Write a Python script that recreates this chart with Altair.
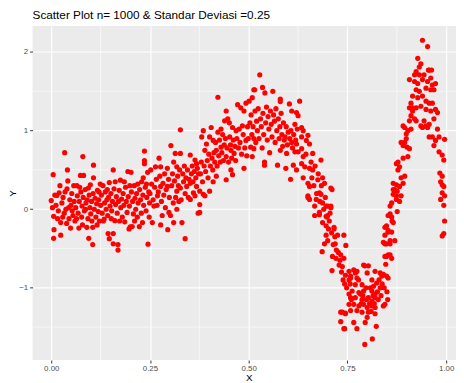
import altair as alt
import pandas as pd

title_text = "Scatter Plot n= 1000 & Standar Deviasi =0.25"

seg_a = [(0.005,0.44),(0.0,0.11),(0.003,0.02),(0.006,-0.09),(0.007,-0.26),(0.006,-0.37),(0.012,0.05),(0.014,0.175),
         (0.02,0.21),(0.018,-0.02),(0.024,-0.17),(0.024,-0.33),(0.027,0.08),(0.03,0.15),(0.033,-0.05),(0.034,0.72),
         (0.037,0.0),(0.04,0.26),(0.041,0.50),(0.042,0.36),(0.045,-0.12),(0.047,0.12),(0.049,-0.24),(0.05,0.05),
         (0.052,0.2),(0.055,-0.08),(0.057,0.30),(0.058,0.1),(0.06,-0.15),
         (0.009,0.18),(0.016,-0.12),(0.022,0.3),(0.029,-0.1),(0.035,0.22),(0.039,-0.18),(0.044,0.02),(0.053,-0.02)]
seg_a2 = [(0.062,0.02),(0.065,0.30),(0.066,0.17),(0.068,-0.05),(0.07,-0.24),(0.071,0.1),(0.074,0.43),(0.075,0.22),
          (0.077,-0.1),(0.078,0.04),(0.08,0.67),(0.081,0.15),(0.082,0.43),(0.084,-0.02),(0.086,0.25),(0.088,0.08),
          (0.09,-0.23),(0.091,0.12),(0.093,-0.12),(0.095,-0.37),(0.096,0.18),(0.098,0.02),(0.099,0.31),(0.1,-0.06),
          (0.102,0.1),(0.105,-0.23),(0.105,-0.45),(0.106,0.2),(0.107,0.56),(0.107,0.40),(0.109,0.0),(0.111,0.14),
          (0.113,-0.1),(0.115,0.07),(0.117,0.24),(0.119,-0.03),(0.12,0.12),(0.122,-0.15),(0.124,0.32),(0.125,0.05),
          (0.064,-0.12),(0.072,0.28),(0.079,-0.2),(0.087,0.0),(0.094,0.27),(0.103,-0.15),(0.116,-0.2),(0.121,0.22)]
seg_b = [(0.127,0.18),(0.129,-0.05),(0.132,-0.15),(0.134,-0.125),(0.135,0.08),(0.137,0.22),(0.139,0.0),(0.141,0.12),
         (0.143,-0.08),(0.144,-0.31),(0.145,0.15),(0.147,0.34),(0.147,-0.375),(0.149,0.04),(0.151,0.2),(0.153,-0.02),
         (0.155,0.1),(0.157,0.50),(0.157,-0.31),(0.157,-0.44),(0.159,0.26),(0.161,-0.146),(0.163,0.06),(0.165,0.16),
         (0.167,-0.05),(0.169,-0.45),(0.169,-0.52),(0.17,0.1),(0.172,0.24),(0.175,0.37),(0.176,0.02),(0.178,0.13),
         (0.18,-0.1),(0.182,0.2),(0.184,0.05),(0.186,-0.16),(0.188,0.28),(0.19,0.1),(0.192,-0.04),(0.194,0.48),
         (0.195,0.16),(0.197,-0.25),(0.198,0.04),(0.2,-0.225),(0.202,0.47),(0.203,0.22),(0.205,-0.22),(0.206,0.1),
         (0.208,-0.06),(0.21,0.3),(0.212,0.14),(0.214,0.0),(0.216,0.2),(0.218,-0.1),(0.22,0.08),(0.223,-0.22),
         (0.224,0.25),(0.226,0.12),(0.228,-0.05),(0.229,0.35),(0.231,-0.17),(0.232,0.18),(0.234,0.05),(0.236,0.74),
         (0.236,0.62),(0.236,0.58),(0.238,0.28),(0.24,-0.02),(0.242,0.15),(0.244,0.47),(0.245,-0.445),(0.247,0.22),
         (0.249,0.08),
         (0.131,0.3),(0.142,0.25),(0.152,-0.12),(0.162,0.35),(0.173,-0.15),(0.185,0.35),(0.199,0.3),(0.211,-0.15),
         (0.219,0.32),(0.233,0.4),(0.241,0.32),(0.248,-0.1)]
seg_c = [(0.252,0.5),(0.256,-0.17),(0.26,0.04),(0.264,0.54),(0.269,0.17),(0.273,0.65),(0.277,0.54),(0.277,0.29),
         (0.277,-0.2),(0.281,-0.08),(0.294,0.52),(0.294,0.29),(0.295,-0.26),(0.298,-0.04),(0.302,-0.08),(0.303,0.81),
         (0.31,0.6),(0.31,-0.17),(0.314,0.71),(0.318,0.54),(0.318,0.23),(0.318,0.0),(0.323,0.10),(0.327,0.71),
         (0.327,0.27),(0.327,1.01),(0.331,-0.17),(0.335,0.35),(0.339,-0.375),(0.343,0.29),(0.352,0.69),(0.352,0.33),
         (0.352,0.125),(0.36,0.21),(0.364,0.625),(0.364,0.17),(0.368,0.58),(0.368,0.29),(0.372,-0.05),(0.376,-0.04),
         (0.376,0.06),(0.376,0.23),
         (0.25,0.2),(0.254,0.32),(0.258,0.12),(0.262,0.28),(0.266,0.38),(0.268,0.05),(0.271,0.22),(0.275,0.42),
         (0.279,0.1),(0.283,0.33),(0.285,0.18),(0.287,0.45),(0.289,0.02),(0.291,0.25),(0.297,0.38),(0.299,0.15),
         (0.305,0.3),(0.307,0.45),(0.309,0.08),(0.312,0.36),(0.315,0.15),(0.32,0.42),(0.322,0.3),(0.325,0.5),
         (0.329,0.12),(0.333,0.45),(0.337,0.55),(0.339,0.2),(0.341,0.4),(0.345,0.5),(0.347,0.15),(0.349,0.38),
         (0.355,0.45),(0.357,0.55),(0.359,0.35),(0.362,0.48),(0.366,0.4),(0.37,0.52),(0.373,0.45)]
seg_d = [(0.381,0.92),(0.385,1.0),(0.385,0.19),(0.389,0.17),(0.389,0.75),(0.393,0.83),(0.401,0.92),(0.401,0.23),
         (0.405,1.04),(0.41,0.875),(0.41,0.35),(0.418,0.42),(0.418,0.75),(0.422,0.98),(0.422,1.425),(0.43,1.02),
         (0.43,0.79),(0.439,1.125),(0.443,1.25),(0.443,0.67),(0.443,0.375),(0.447,1.15),(0.451,1.10),(0.455,0.75),
         (0.455,0.5),(0.459,1.04),(0.459,0.44),(0.463,0.71),(0.468,1.0),(0.472,1.33),(0.476,1.02),(0.48,1.29),
         (0.484,1.06),(0.488,1.25),(0.488,0.52),(0.493,1.35),(0.493,0.875),
         (0.378,0.45),(0.38,0.6),(0.383,0.35),(0.387,0.55),(0.391,0.48),(0.395,0.62),(0.397,0.4),(0.399,0.7),
         (0.403,0.55),(0.407,0.65),(0.409,0.5),(0.412,0.72),(0.414,0.6),(0.416,0.85),(0.42,0.55),(0.424,0.68),
         (0.426,0.88),(0.428,0.6),(0.432,0.72),(0.434,0.95),(0.436,0.62),(0.438,0.82),(0.441,0.9),(0.445,0.78),
         (0.449,0.6),(0.452,0.92),(0.454,0.82),(0.457,0.65),(0.461,0.88),(0.465,0.8),(0.467,0.62),(0.47,0.9),
         (0.474,0.78),(0.478,0.85),(0.482,0.7),(0.486,0.95),(0.49,0.78),(0.495,0.68),(0.497,1.05),(0.499,0.9)]
seg_e = [(0.501,1.375),(0.505,0.79),(0.509,1.42),(0.509,0.67),(0.513,1.52),(0.513,0.9),(0.513,0.77),(0.515,1.52),
         (0.528,1.71),(0.535,1.55),(0.541,1.48),(0.54,0.6),(0.54,0.56),(0.561,1.50),(0.573,0.56),(0.58,1.40),
         (0.58,1.37),(0.58,0.75),(0.594,0.52),(0.596,0.71),(0.603,1.34),(0.606,0.38),(0.609,1.25),(0.609,0.85),
         (0.613,0.56),(0.617,1.08),(0.617,0.73),(0.621,1.23),(0.621,0.83),(0.621,0.5),(0.625,1.19),(0.625,0.73),
         (0.503,1.1),(0.506,1.2),(0.508,0.95),(0.511,1.05),(0.516,1.25),(0.518,0.85),(0.52,1.12),(0.522,1.0),
         (0.524,1.28),(0.526,0.9),(0.53,1.15),(0.532,1.05),(0.534,0.78),(0.536,1.22),(0.538,0.95),(0.543,1.1),
         (0.545,1.3),(0.547,0.88),(0.549,1.18),(0.551,1.02),(0.553,0.72),(0.555,1.25),(0.557,1.08),(0.559,0.92),
         (0.563,1.2),(0.565,1.12),(0.567,0.85),(0.569,1.28),(0.571,1.0),(0.575,1.15),(0.577,0.9),(0.579,1.05),
         (0.582,1.22),(0.584,0.95),(0.586,0.8),(0.588,1.1),(0.59,0.88),(0.592,0.92),(0.595,1.05),(0.598,0.82),
         (0.6,0.98),(0.604,0.9),(0.607,1.0),(0.611,0.78),(0.614,0.95),(0.619,0.88),(0.623,1.02)]
seg_f = [(0.629,1.375),(0.634,0.92),(0.634,1.04),(0.634,0.77),(0.634,0.58),(0.638,1.0),(0.638,0.67),(0.638,0.40),
         (0.642,0.54),(0.646,0.875),(0.65,0.94),(0.65,0.33),(0.65,0.17),(0.654,0.83),(0.654,0.52),(0.654,0.29),
         (0.654,0.125),(0.662,0.71),(0.662,0.5),(0.667,-0.08),(0.671,0.125),(0.675,0.375),(0.679,-0.04),(0.683,0.625),
         (0.683,0.19),(0.686,-0.54),(0.687,0.40),(0.687,0.08),(0.687,-0.17),(0.692,0.33),(0.692,-0.44),(0.696,-0.21),
         (0.696,-0.33),(0.7,0.04),(0.7,-0.08),(0.7,-0.40),(0.704,-0.15),(0.708,0.04),(0.711,0.25),(0.711,-0.78),
         (0.712,-0.60),(0.716,-0.25),(0.719,-0.44),(0.721,-0.625),(0.725,-0.33),(0.729,-0.71),(0.733,-0.58),(0.733,-1.43),
         (0.737,-0.73),(0.737,-1.31),(0.741,-0.33),(0.741,-0.625),(0.741,-1.52),(0.745,-0.84),(0.745,-1.32),(0.746,-0.46),
         (0.754,-0.79),(0.758,-0.875),
         (0.645,0.7),(0.658,0.6),(0.66,0.4),(0.665,0.3),(0.668,0.55),(0.672,0.2),(0.676,0.45),(0.68,0.1),
         (0.684,0.3),(0.69,0.0),(0.694,0.15),(0.698,-0.1),(0.702,-0.25),(0.706,-0.05),(0.71,-0.3),(0.714,-0.45),
         (0.718,-0.35),(0.722,-0.52),(0.727,-0.55),(0.731,-0.65),(0.735,-0.8),(0.739,-0.9),(0.743,-0.95),(0.748,-1.0),
         (0.708,0.27),(0.679,0.21),(0.65,0.15),(0.667,0.04),(0.696,0.04),(0.708,0.02),(0.679,-0.07),(0.696,-0.09),
         (0.716,-0.23),(0.733,-1.31),(0.745,-1.33),(0.743,-1.52)]
seg_g = [(0.754,-1.08),(0.754,-1.21),(0.754,-0.9),(0.758,-0.85),(0.758,-1.125),(0.762,-1.04),(0.766,-0.77),(0.766,-1.21),
         (0.766,-1.44),(0.770,-0.81),(0.770,-0.96),(0.770,-1.125),(0.774,-0.875),(0.774,-0.79),(0.774,-1.52),(0.779,-1.06),
         (0.779,-1.23),(0.783,-1.08),(0.787,-0.96),(0.787,-1.15),(0.791,-1.04),(0.791,-1.21),(0.791,-0.71),(0.794,-0.72),
         (0.794,-1.72),(0.795,-1.44),(0.80,-0.81),(0.80,-1.25),(0.803,-0.72),(0.803,-1.125),(0.812,-0.90),(0.812,-1.04),
         (0.812,-1.17),(0.812,-1.23),(0.813,-1.65),(0.816,-0.98),(0.82,-0.79),(0.82,-1.08),(0.82,-1.125),(0.82,-1.25),
         (0.823,-1.49),(0.824,-0.94),(0.833,-0.81),(0.833,-1.0),(0.837,-0.85),(0.841,-0.83),(0.841,-1.23),(0.845,-1.21),
         (0.849,-0.85),(0.852,-1.15),(0.853,-0.875),(0.758,-1.29),(0.774,-1.29),(0.787,-1.31),(0.803,-1.31),(0.82,-1.33),
         (0.80,-1.375),
         (0.757,-0.95),(0.76,-1.15),(0.778,-0.9),(0.785,-1.2),(0.789,-1.1),(0.797,-1.0),(0.798,-1.15),(0.806,-1.2),
         (0.808,-1.0),(0.81,-1.3),(0.815,-1.1),(0.818,-1.2),(0.826,-1.05),(0.828,-1.15),(0.83,-0.9),(0.835,-1.1),
         (0.838,-0.95),(0.843,-1.0),(0.847,-0.7),(0.85,-1.05)]
seg_h = [(0.841,-0.42),(0.845,-0.60),(0.845,-0.33),(0.845,-0.23),(0.845,-0.44),(0.849,-0.44),(0.849,-0.60),(0.849,-0.21),
         (0.853,-0.58),(0.853,-0.27),(0.853,-0.29),(0.853,-0.08),(0.858,-0.40),(0.858,-0.44),(0.858,-0.58),(0.858,-0.06),
         (0.858,0.04),(0.862,-0.625),(0.862,-0.29),(0.862,-0.10),(0.862,0.08),(0.863,-0.15),(0.866,-0.17),(0.866,0.19),
         (0.866,0.33),(0.866,0.25),(0.87,-0.40),(0.87,0.25),(0.874,0.125),(0.874,0.31),(0.874,0.58),(0.874,0.17),
         (0.876,-0.03),(0.876,0.23),(0.878,0.5),(0.878,0.6),(0.882,0.10),(0.882,0.29),(0.882,0.54),(0.886,0.17),
         (0.886,0.40),(0.886,0.85),(0.891,0.33),(0.891,0.65),(0.891,0.81),(0.891,1.06),(0.895,0.42),(0.895,0.85),
         (0.895,1.04),(0.899,0.9),(0.899,0.96),(0.901,0.79),(0.903,0.67),(0.903,1.0),(0.907,0.77),(0.907,1.125),
         (0.907,1.29),(0.907,1.65),(0.911,1.02),(0.911,1.19),(0.911,1.35),(0.915,1.25),(0.915,1.44),(0.915,1.29),
         (0.92,1.15),(0.92,1.625),(0.92,1.71)]
seg_i = [(0.924,1.125),(0.924,1.75),(0.924,1.52),(0.924,1.29),(0.928,1.42),(0.928,1.6),(0.928,1.92),(0.932,1.71),
         (0.932,1.81),(0.932,1.5),(0.936,1.06),(0.936,1.85),(0.936,1.31),(0.94,1.44),(0.94,1.65),(0.94,2.15),
         (0.94,1.04),(0.944,1.71),(0.944,1.125),(0.949,1.375),(0.949,1.54),(0.949,1.27),(0.949,1.06),(0.953,1.04),
         (0.953,1.625),(0.953,2.07),(0.955,1.77),(0.957,1.08),(0.957,1.35),(0.957,1.77),(0.957,0.92),(0.961,1.67),
         (0.961,1.52),(0.961,1.25),(0.963,1.77),(0.965,1.35),(0.965,1.58),(0.965,0.92),(0.969,1.15),(0.969,1.52),
         (0.969,0.81),(0.973,1.27),(0.973,1.6),(0.973,0.875),(0.978,1.23),(0.978,1.02),(0.982,0.92),(0.982,0.73),
         (0.984,0.46),(0.986,0.35),(0.986,0.125),(0.99,0.69),(0.99,0.42),(0.99,0.31),(0.99,0.21),(0.99,-0.34),
         (0.994,0.625),(0.994,0.29),(0.994,0.05),(0.994,-0.31),(0.996,0.89),(0.996,0.17),(0.996,-0.15)]

x_major = [0.0, 0.25, 0.5, 0.75, 1.0]
x_minor = [0.125, 0.375, 0.625, 0.875]
y_major = [-1, 0, 1, 2]
y_minor = [-1.5, -0.5, 0.5, 1.5]
x_domain = [-0.0473, 1.0249]
y_domain = [-1.919, 2.331]

pts = seg_a + seg_a2 + seg_b + seg_c + seg_d + seg_e + seg_f + seg_g + seg_h + seg_i
df = pd.DataFrame({"x": [p[0] for p in pts], "y": [p[1] for p in pts]})

FONT = "Liberation Sans"
x_scale = alt.Scale(domain=x_domain, nice=False, zero=False)
y_scale = alt.Scale(domain=y_domain, nice=False, zero=False)
x_axis = alt.Axis(values=x_major, format=".2f", title="X", titleX=220, titleY=21,
                  titleBaseline="alphabetic", labelPadding=2)
y_axis = alt.Axis(values=y_major, format="d", title="Y", titleX=-20, titleY=170,
                  titleBaseline="middle", titleAlign="center", labelPadding=2)

vrules = alt.Chart(pd.DataFrame({"x": x_minor})).mark_rule(color="white", strokeWidth=0.55).encode(
    x=alt.X("x:Q", scale=x_scale, axis=x_axis))
hrules = alt.Chart(pd.DataFrame({"y": y_minor})).mark_rule(color="white", strokeWidth=0.55).encode(
    y=alt.Y("y:Q", scale=y_scale, axis=y_axis))
points = alt.Chart(df).mark_circle(color="#FF0000", size=28, opacity=1).encode(
    x=alt.X("x:Q", scale=x_scale, axis=x_axis),
    y=alt.Y("y:Q", scale=y_scale, axis=y_axis))

chart = alt.layer(vrules, hrules, points).properties(
    width=431, height=340,
    title=alt.TitleParams(title_text, anchor="start", frame="group", fontSize=12, font=FONT,
                          fontWeight="normal", color="black", offset=4),
    padding={"left": 25, "top": 15, "right": 0, "bottom": 20},
    autosize="none",
).configure_view(fill="#EBEBEB", stroke=None).configure_axis(
    grid=True, gridColor="white", gridWidth=1.1, domain=False,
    tickColor="#333333", tickSize=3, tickWidth=1,
    labelColor="#4D4D4D", labelFont=FONT, labelFontSize=8,
    titleFont=FONT, titleFontSize=10, titleColor="black", titleFontWeight="normal")

chart.save("out.html", embed_options={"renderer": "svg", "actions": False})
